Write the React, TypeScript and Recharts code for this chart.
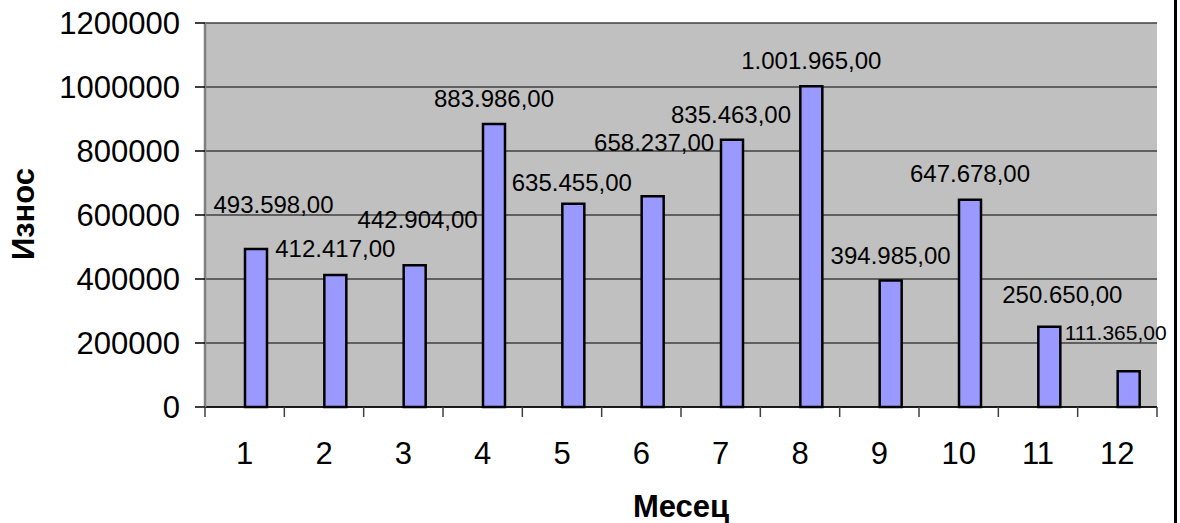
import React from 'react';
import { BarChart, Bar, XAxis, YAxis, CartesianGrid, LabelList, Label } from 'recharts';

const months = ['1', '2', '3', '4', '5', '6', '7', '8', '9', '10', '11', '12'];
const iznos = [493598, 412417, 442904, 883986, 635455, 658237, 835463, 1001965, 394985, 647678, 250650, 111365];
const yTicks = [0, 200000, 400000, 600000, 800000, 1000000, 1200000];

// label offsets (style), relative to bar top centre
const labelDx = [17.5, 0, 3, 0, -1.5, 1.5, -1, 0, 0, 0, 13, -13];
const labelDy = [-45, -27, -46, -26, -21, -54, -25, -26, -25, -26, -32, -39];
const labelSize = [24, 24, 24, 24, 24, 24, 24, 24, 24, 24, 24, 21];

const data = months.map((m, i) => ({ month: m, iznos: iznos[i], blank: null as number | null }));

const fmt = (v: number) => {
  const s = Math.round(v).toString();
  const parts: string[] = [];
  for (let i = s.length; i > 0; i -= 3) parts.unshift(s.slice(Math.max(0, i - 3), i));
  return parts.join('.') + ',00';
};

const FONT = '"Liberation Sans", Arial, sans-serif';
const X_TICK_SIZE = 6;
const X_TICK_MARGIN = 29;
const BOUNDARY_TICK = 10;

const renderLabel = (props: any) => {
  const { x, y, width, value, index } = props;
  const fs = labelSize[index];
  const cx = Number(x) + Number(width) / 2 + labelDx[index];
  const cy = Number(y) + labelDy[index];
  return (
    <text x={cx} y={cy + fs * 0.355} textAnchor="middle" fontSize={fs} fill="#000" fontFamily={FONT}>
      {fmt(Number(value))}
    </text>
  );
};

const renderYLabel = (props: any) => {
  const vb = props.viewBox || { x: 0, y: 23, width: 205, height: 384 };
  const x = vb.x + 34;
  const y = vb.y + vb.height / 2 - 1;
  return (
    <text x={x} y={y} transform={`rotate(-90 ${x} ${y})`} textAnchor="middle" fontSize={31} fontWeight="bold" fill="#000" fontFamily={FONT}>
      Износ
    </text>
  );
};

const MonthTick = (props: any) => {
  const { x, y, payload, width, visibleTicksCount, index } = props;
  const half =
    payload && typeof payload.offset === 'number' && payload.offset > 0
      ? payload.offset
      : Number(width) / (visibleTicksCount || months.length) / 2;
  const axisY = Number(y) - X_TICK_SIZE - X_TICK_MARGIN;
  const fs = 31;
  return (
    <g>
      <line x1={x - half} x2={x - half} y1={axisY} y2={axisY + BOUNDARY_TICK} stroke="#404040" strokeWidth={1.5} />
      {index === (visibleTicksCount || months.length) - 1 && (
        <line x1={x + half} x2={x + half} y1={axisY} y2={axisY + BOUNDARY_TICK} stroke="#404040" strokeWidth={1.5} />
      )}
      <text x={x} y={Number(y) + fs * 0.71} textAnchor="middle" fontSize={fs} fill="#000" fontFamily={FONT}>
        {payload.value}
      </text>
    </g>
  );
};

export default function App() {
  return (
    <div style={{ position: 'absolute', left: 0, top: 0, width: 1180, height: 523, background: '#fff', fontFamily: FONT, overflow: 'hidden' }}>
      <BarChart
        width={1180}
        height={523}
        data={data}
        margin={{ top: 23, right: 23, bottom: 0, left: 0 }}
        barSize={22}
        barGap={0}
      >
        <CartesianGrid vertical={false} fill="#C0C0C0" stroke="#404040" strokeWidth={1.5} />
        <XAxis
          xAxisId="t"
          orientation="top"
          type="number"
          domain={[0, 12]}
          allowDataOverflow
          height={0}
          tick={false}
          tickLine={false}
          axisLine={{ stroke: '#808080', strokeWidth: 2.5 }}
        />
        <XAxis
          dataKey="month"
          height={116}
          interval={0}
          tickLine={false}
          tickSize={X_TICK_SIZE}
          tickMargin={X_TICK_MARGIN}
          axisLine={{ stroke: '#000', strokeWidth: 1.5 }}
          tick={MonthTick}
        >
          <Label value="Месец" position="insideBottom" offset={6} fontSize={31} fontWeight="bold" fill="#000" fontFamily={FONT} />
        </XAxis>
        <YAxis
          width={205}
          domain={[0, 1200000]}
          ticks={yTicks}
          interval={0}
          tickSize={10}
          tickMargin={15}
          tickFormatter={(v: number) => String(v)}
          axisLine={{ stroke: '#808080', strokeWidth: 2.5 }}
          tickLine={{ stroke: '#000', strokeWidth: 1.5 }}
          tick={{ fontSize: 31, fill: '#000', fontFamily: FONT }}
        >
          <Label content={renderYLabel} />
        </YAxis>
        <YAxis
          yAxisId="r"
          orientation="right"
          width={0}
          domain={[0, 1200000]}
          allowDataOverflow
          tick={false}
          tickLine={false}
          axisLine={{ stroke: '#808080', strokeWidth: 3 }}
        />
        <Bar dataKey="blank" fill="#9999FF" isAnimationActive={false} />
        <Bar dataKey="iznos" fill="#9999FF" stroke="#000" strokeWidth={2.5} isAnimationActive={false}>
          <LabelList dataKey="iznos" content={renderLabel} />
        </Bar>
      </BarChart>
      <div style={{ position: 'absolute', left: 1174, top: 0, width: 3, height: 523, background: '#000' }} />
    </div>
  );
}
